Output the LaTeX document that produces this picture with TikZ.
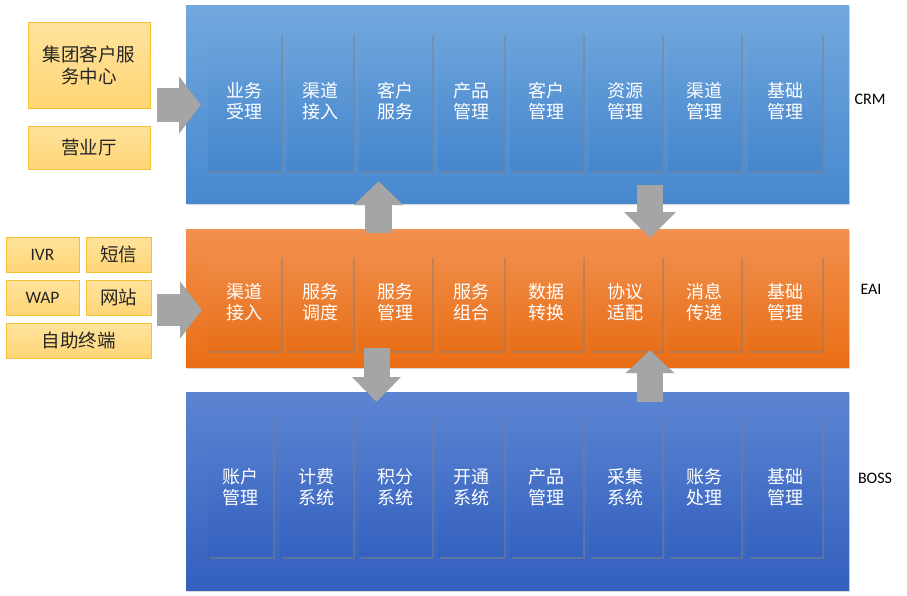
\documentclass[tikz,border=0pt]{standalone}
\usepackage{fontspec}
\setmainfont{Carlito}
\newfontfamily\cjk{Noto Sans CJK SC}
\usetikzlibrary{shadows,arrows.meta,calc}
\definecolor{crmT}{HTML}{72A8DE}
\definecolor{crmB}{HTML}{4788CF}
\definecolor{crmiT}{HTML}{6CA3DB}
\definecolor{crmiB}{HTML}{4586CD}
\definecolor{eaiT}{HTML}{F2904E}
\definecolor{eaiB}{HTML}{EA6E15}
\definecolor{eaiiT}{HTML}{F08C48}
\definecolor{eaiiB}{HTML}{E86F18}
\definecolor{bossT}{HTML}{5B85D2}
\definecolor{bossB}{HTML}{3360BE}
\definecolor{bossiT}{HTML}{5680CF}
\definecolor{bossiB}{HTML}{3562C0}
\definecolor{ylT}{HTML}{FFE29C}
\definecolor{ylB}{HTML}{FFD676}
\definecolor{ylD}{HTML}{F2C232}
\definecolor{arrg}{HTML}{A5A5A5}
\definecolor{txtd}{HTML}{262626}
\begin{document}
\begin{tikzpicture}[x=1pt,y=-1pt,
  panel/.style={inner sep=0pt, outer sep=0pt, minimum width=663pt,
    drop shadow={shadow xshift=1.2pt, shadow yshift=-2pt, opacity=0.3}},
  crmpanel/.style={panel, top color=crmT, bottom color=crmB},
  eaipanel/.style={panel, top color=eaiT, bottom color=eaiB},
  bosspanel/.style={panel, top color=bossT, bottom color=bossB},
  ibox/.style={inner sep=0pt, outer sep=0pt, text=white, align=center,
    font=\cjk\fontsize{18}{21}\selectfont,
    drop shadow={shadow xshift=2pt, shadow yshift=-2.5pt, opacity=0.5}},
  crmbox/.style={ibox, top color=crmiT, bottom color=crmiB, minimum height=138pt},
  eaibox/.style={ibox, top color=eaiiT, bottom color=eaiiB, minimum height=95pt},
  bossbox/.style={ibox, top color=bossiT, bottom color=bossiB, minimum height=138pt},
  ybox/.style={inner sep=0pt, outer sep=0pt, draw=ylD, line width=0.8pt,
    top color=ylT, bottom color=ylB, text=txtd, align=center,
    font=\cjk\fontsize{18.5}{22}\selectfont},
  lat/.style={font=\fontsize{17.5}{20}\selectfont},
  layerlabel/.style={inner sep=0pt, text=black, font=\fontsize{16}{18}\selectfont},
  blockarrow/.style={draw=arrg, line cap=butt},
  blockshadow/.style={draw=black, opacity=0.2, line cap=butt}
]
\useasboundingbox (0,0) rectangle (907,595);

% panels
\node[crmpanel, minimum height=198pt] (crm) at (517.5,104) {};
\node[eaipanel, minimum height=138pt] (eai) at (517.5,298) {};
\node[bosspanel, minimum height=198pt] (boss) at (517.5,491) {};

% CRM boxes
\node[crmbox, minimum width=73pt] (c1) at (244.5,101) {业务\\受理};
\node[crmbox, minimum width=66pt] (c2) at (320,101) {渠道\\接入};
\node[crmbox, minimum width=73pt] (c3) at (395.5,101) {客户\\服务};
\node[crmbox, minimum width=66pt] (c4) at (471,101) {产品\\管理};
\node[crmbox, minimum width=73pt] (c5) at (546.5,101) {客户\\管理};
\node[crmbox, minimum width=73pt] (c6) at (625.5,101) {资源\\管理};
\node[crmbox, minimum width=73pt] (c7) at (704.5,101) {渠道\\管理};
\node[crmbox, minimum width=74pt] (c8) at (785,101) {基础\\管理};

% EAI boxes
\node[eaibox, minimum width=74pt] (e1) at (244,302.5) {渠道\\接入};
\node[eaibox, minimum width=66pt] (e2) at (320,302.5) {服务\\调度};
\node[eaibox, minimum width=73pt] (e3) at (395.5,302.5) {服务\\管理};
\node[eaibox, minimum width=66pt] (e4) at (471,302.5) {服务\\组合};
\node[eaibox, minimum width=73pt] (e5) at (546.5,302.5) {数据\\转换};
\node[eaibox, minimum width=73pt] (e6) at (625.5,302.5) {协议\\适配};
\node[eaibox, minimum width=73pt] (e7) at (704.5,302.5) {消息\\传递};
\node[eaibox, minimum width=74pt] (e8) at (785,302.5) {基础\\管理};

% BOSS boxes
\node[bossbox, minimum width=65pt] (b1) at (240.5,487) {账户\\管理};
\node[bossbox, minimum width=73pt] (b2) at (316.5,487) {计费\\系统};
\node[bossbox, minimum width=73pt] (b3) at (395.5,487) {积分\\系统};
\node[bossbox, minimum width=66pt] (b4) at (471,487) {开通\\系统};
\node[bossbox, minimum width=73pt] (b5) at (546.5,487) {产品\\管理};
\node[bossbox, minimum width=73pt] (b6) at (625.5,487) {采集\\系统};
\node[bossbox, minimum width=73pt] (b7) at (704.5,487) {账务\\处理};
\node[bossbox, minimum width=74pt] (b8) at (785,487) {基础\\管理};

% layer labels
\node[layerlabel] (lcrm) at (870,99) {CRM};
\node[layerlabel] (leai) at (871,289) {EAI};
\node[layerlabel] (lboss) at (875,478) {BOSS};

% left channel boxes
\node[ybox, minimum width=122pt, minimum height=86pt] (jt) at (89,65) {集团客户服\\务中心};
\node[ybox, minimum width=122pt, minimum height=43pt] (yyt) at (89,147.5) {营业厅};
\node[ybox, lat, minimum width=73pt, minimum height=35pt] (ivr) at (42.5,254.5) {IVR};
\node[ybox, minimum width=65pt, minimum height=35pt] (dx) at (118.5,254.5) {短信};
\node[ybox, lat, minimum width=73pt, minimum height=35pt] (wap) at (42.5,297.5) {WAP};
\node[ybox, minimum width=65pt, minimum height=35pt] (wz) at (118.5,297.5) {网站};
\node[ybox, minimum width=145pt, minimum height=35pt] (zz) at (78.5,340.5) {自助终端};

% connector end points
\coordinate (a1s) at (157,105);   \coordinate (a1e) at (201,105);
\coordinate (a2s) at (157,310);   \coordinate (a2e) at (202,310);
\coordinate (a3s) at (378.5,233); \coordinate (a3e) at (378.5,181);
\coordinate (a4s) at (650,185);   \coordinate (a4e) at (650,238);
\coordinate (a5s) at (376.5,348); \coordinate (a5e) at (376.5,402);
\coordinate (a6s) at (650,402);   \coordinate (a6e) at (650,350);

% shadows of block arrows
\begin{scope}[xshift=1.5pt, yshift=-2pt]
\draw[blockshadow, line width=34pt, -{Triangle[length=22pt,width=56pt]}] (a1s) -- (a1e);
\draw[blockshadow, line width=32pt, -{Triangle[length=22pt,width=56pt]}] (a2s) -- (a2e);
\draw[blockshadow, line width=27pt, -{Triangle[length=24pt,width=48pt]}] (a3s) -- (a3e);
\draw[blockshadow, line width=26pt, -{Triangle[length=26pt,width=50pt]}] (a4s) -- (a4e);
\draw[blockshadow, line width=26pt, -{Triangle[length=25pt,width=47pt]}] (a5s) -- (a5e);
\draw[blockshadow, line width=26pt, -{Triangle[length=23pt,width=47pt]}] (a6s) -- (a6e);
\end{scope}

% block arrows
\draw[blockarrow, line width=34pt, -{Triangle[length=22pt,width=56pt]}] (a1s) -- (a1e);
\draw[blockarrow, line width=32pt, -{Triangle[length=22pt,width=56pt]}] (a2s) -- (a2e);
\draw[blockarrow, line width=27pt, -{Triangle[length=24pt,width=48pt]}] (a3s) -- (a3e);
\draw[blockarrow, line width=26pt, -{Triangle[length=26pt,width=50pt]}] (a4s) -- (a4e);
\draw[blockarrow, line width=26pt, -{Triangle[length=25pt,width=47pt]}] (a5s) -- (a5e);
\draw[blockarrow, line width=26pt, -{Triangle[length=23pt,width=47pt]}] (a6s) -- (a6e);
\end{tikzpicture}
\end{document}
